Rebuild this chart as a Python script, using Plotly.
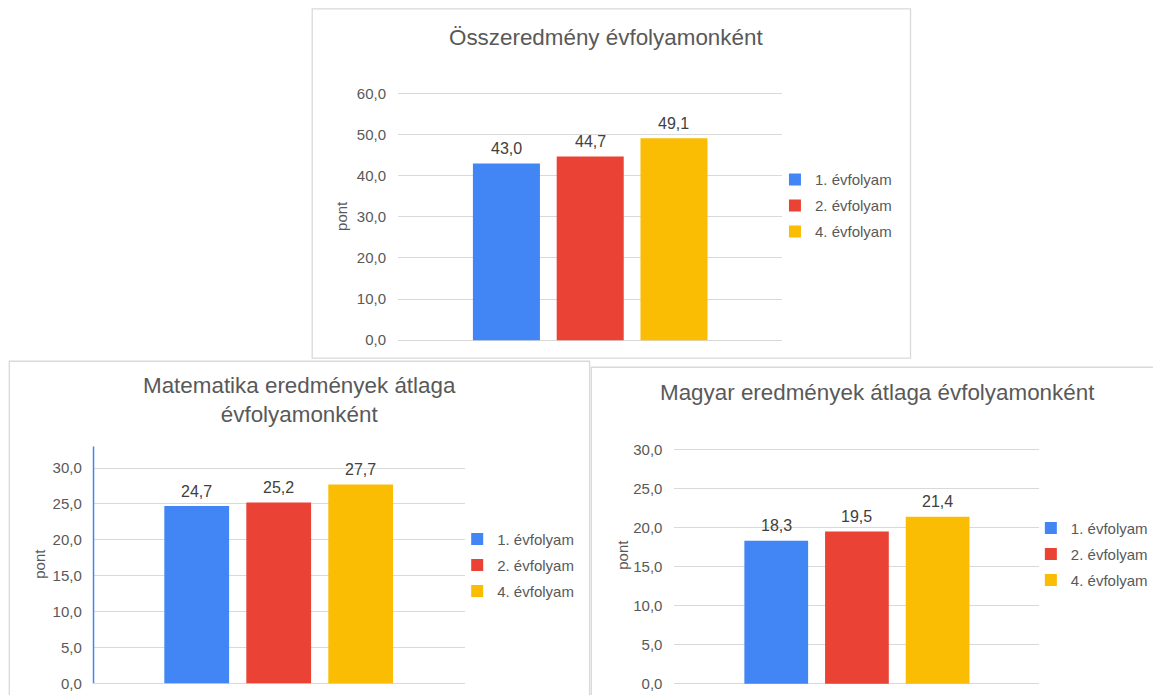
import plotly.graph_objects as go

# Canvas size in pixels
W, H = 1153, 695

# ---- data -------------------------------------------------------------
grades = ["1. évfolyam", "2. évfolyam", "4. évfolyam"]
grade_colors = ["#4285F4", "#EA4335", "#FBBC04"]

total_scores = [43.0, 44.7, 49.1]
math_scores = [24.7, 25.2, 27.7]
hungarian_scores = [18.3, 19.5, 21.4]

chart_titles = [
    "Összeredmény évfolyamonként",
    "Matematika eredmények átlaga<br>évfolyamonként",
    "Magyar eredmények átlaga évfolyamonként",
]
axis_title = "pont"
y_max = [60, 30, 30]
y_step = [10, 5, 5]

# ---- layout (figure pixels) --------------------------------------------
def px_x(x):
    return x / W


def px_y(y):
    return 1 - y / H


TEXT = "#595959"
LABEL = "#404040"
GRID = "#d9d9d9"
FONT = "Liberation Sans, Arial, sans-serif"

# plot boxes: left, right, pixel row of 0, pixel row of the top gridline
boxes = [
    (402.2, 790.3, 339.5, 88.2),
    (94.8, 469.8, 689.2, 469.8),
    (681.5, 1049.9, 689.7, 450.9),
]
# category ranges of the x axes and bar widths (category units)
x_ranges = [(-1.294, 3.290), (-1.255, 3.271), (-1.262, 3.256)]
bar_width = [0.80, 0.79, 0.79]

# legend box left edge / middle row, title centres, y-title centres
legend_pos = [(783.1, 202.5), (462.0, 568.8), (1041.7, 557.6)]
title_pos = [(612.2, 30.7), (302.4, 400.8), (886.4, 392.6)]
ytitle_pos = [(345.8, 212.7), (40.3, 567.5), (629.5, 558.3)]

series = [total_scores, math_scores, hungarian_scores]

fig = go.Figure()

layout_axes = {}
legends = {}
annotations = []

for i, (values, (left, right, zero_px, top_px)) in enumerate(zip(series, boxes)):
    n = "" if i == 0 else str(i + 1)
    k = (zero_px - top_px) / y_max[i]
    pad = 2 / k
    leg_name = "legend" + n

    for g, (grade, color, v) in enumerate(zip(grades, grade_colors, values)):
        fig.add_trace(
            go.Bar(
                x=[grade],
                y=[v],
                width=bar_width[i],
                name=grade,
                marker=dict(color=color, line=dict(width=0)),
                xaxis="x" + n,
                yaxis="y" + n,
                legend=leg_name,
                legendgroup=f"c{i}g{g}",
                hoverinfo="skip",
            )
        )
        # value label above the bar
        annotations.append(
            dict(
                text=f"{v:.1f}".replace(".", ","),
                x=grade,
                y=v,
                xref="x" + n,
                yref="y" + n,
                xanchor="center",
                yanchor="middle",
                yshift=15,
                showarrow=False,
                font=dict(size=16, color=LABEL, family=FONT),
            )
        )

    layout_axes["xaxis" + n] = dict(
        domain=[px_x(left), px_x(right)],
        anchor="y" + n,
        type="category",
        categoryorder="array",
        categoryarray=grades,
        range=list(x_ranges[i]),
        showticklabels=False,
        showgrid=False,
        zeroline=False,
        showline=False,
        ticks="",
    )
    layout_axes["yaxis" + n] = dict(
        domain=[px_y(zero_px + 2), px_y(top_px - 2)],
        anchor="x" + n,
        range=[-pad, y_max[i] + pad],
        tick0=0,
        dtick=y_step[i],
        tickformat=".1f",
        showgrid=True,
        gridcolor=GRID,
        gridwidth=1,
        zeroline=False,
        showline=False,
        ticks="",
        ticklabelstandoff=11,
        tickfont=dict(size=15, color=TEXT, family=FONT),
    )

    lx, ly = legend_pos[i]
    legends[leg_name] = dict(
        x=px_x(lx),
        y=px_y(ly),
        xanchor="left",
        yanchor="middle",
        font=dict(size=15, color=TEXT, family=FONT),
        bgcolor="rgba(0,0,0,0)",
        itemwidth=30,
        tracegroupgap=3.5,
        traceorder="grouped",
    )

    tx, ty = title_pos[i]
    annotations.append(
        dict(
            text=chart_titles[i],
            x=px_x(tx),
            y=px_y(ty),
            xref="paper",
            yref="paper",
            xanchor="center",
            yanchor="middle",
            showarrow=False,
            font=dict(size=22.4, color=TEXT, family=FONT),
        )
    )
    ax_, ay_ = ytitle_pos[i]
    annotations.append(
        dict(
            text=axis_title,
            x=px_x(ax_),
            y=px_y(ay_),
            xref="paper",
            yref="paper",
            xanchor="center",
            yanchor="middle",
            textangle=-90,
            showarrow=False,
            font=dict(size=15, color=TEXT, family=FONT),
        )
    )

# chart frames
frames = [
    (315.5, 920.1, 2.0, 357.9),
    (9.4, 595.8, 361.0, 720),
    (597.5, 1180, 367.1, 720),
]
shapes = [
    dict(
        type="rect",
        xref="paper",
        yref="paper",
        x0=px_x(x0),
        x1=px_x(x1),
        y0=px_y(y1),
        y1=px_y(y0),
        line=dict(color=GRID, width=1.3),
        fillcolor="white",
        layer="below",
    )
    for x0, x1, y0, y1 in frames
]
# highlighted vertical axis of the mathematics chart
shapes.append(
    dict(
        type="line",
        xref="paper",
        yref="paper",
        x0=px_x(94.5),
        x1=px_x(94.5),
        y0=px_y(689.2),
        y1=px_y(447.9),
        line=dict(color="#4285F4", width=1.5),
        layer="above",
    )
)

fig.update_layout(
    width=W,
    height=H,
    margin=dict(l=0, r=0, t=0, b=0),
    paper_bgcolor="white",
    plot_bgcolor="rgba(0,0,0,0)",
    barmode="overlay",
    separators=",.",
    font=dict(family=FONT, color=TEXT),
    annotations=annotations,
    shapes=shapes,
    **layout_axes,
    **legends,
)

fig.write_html("out.html")
